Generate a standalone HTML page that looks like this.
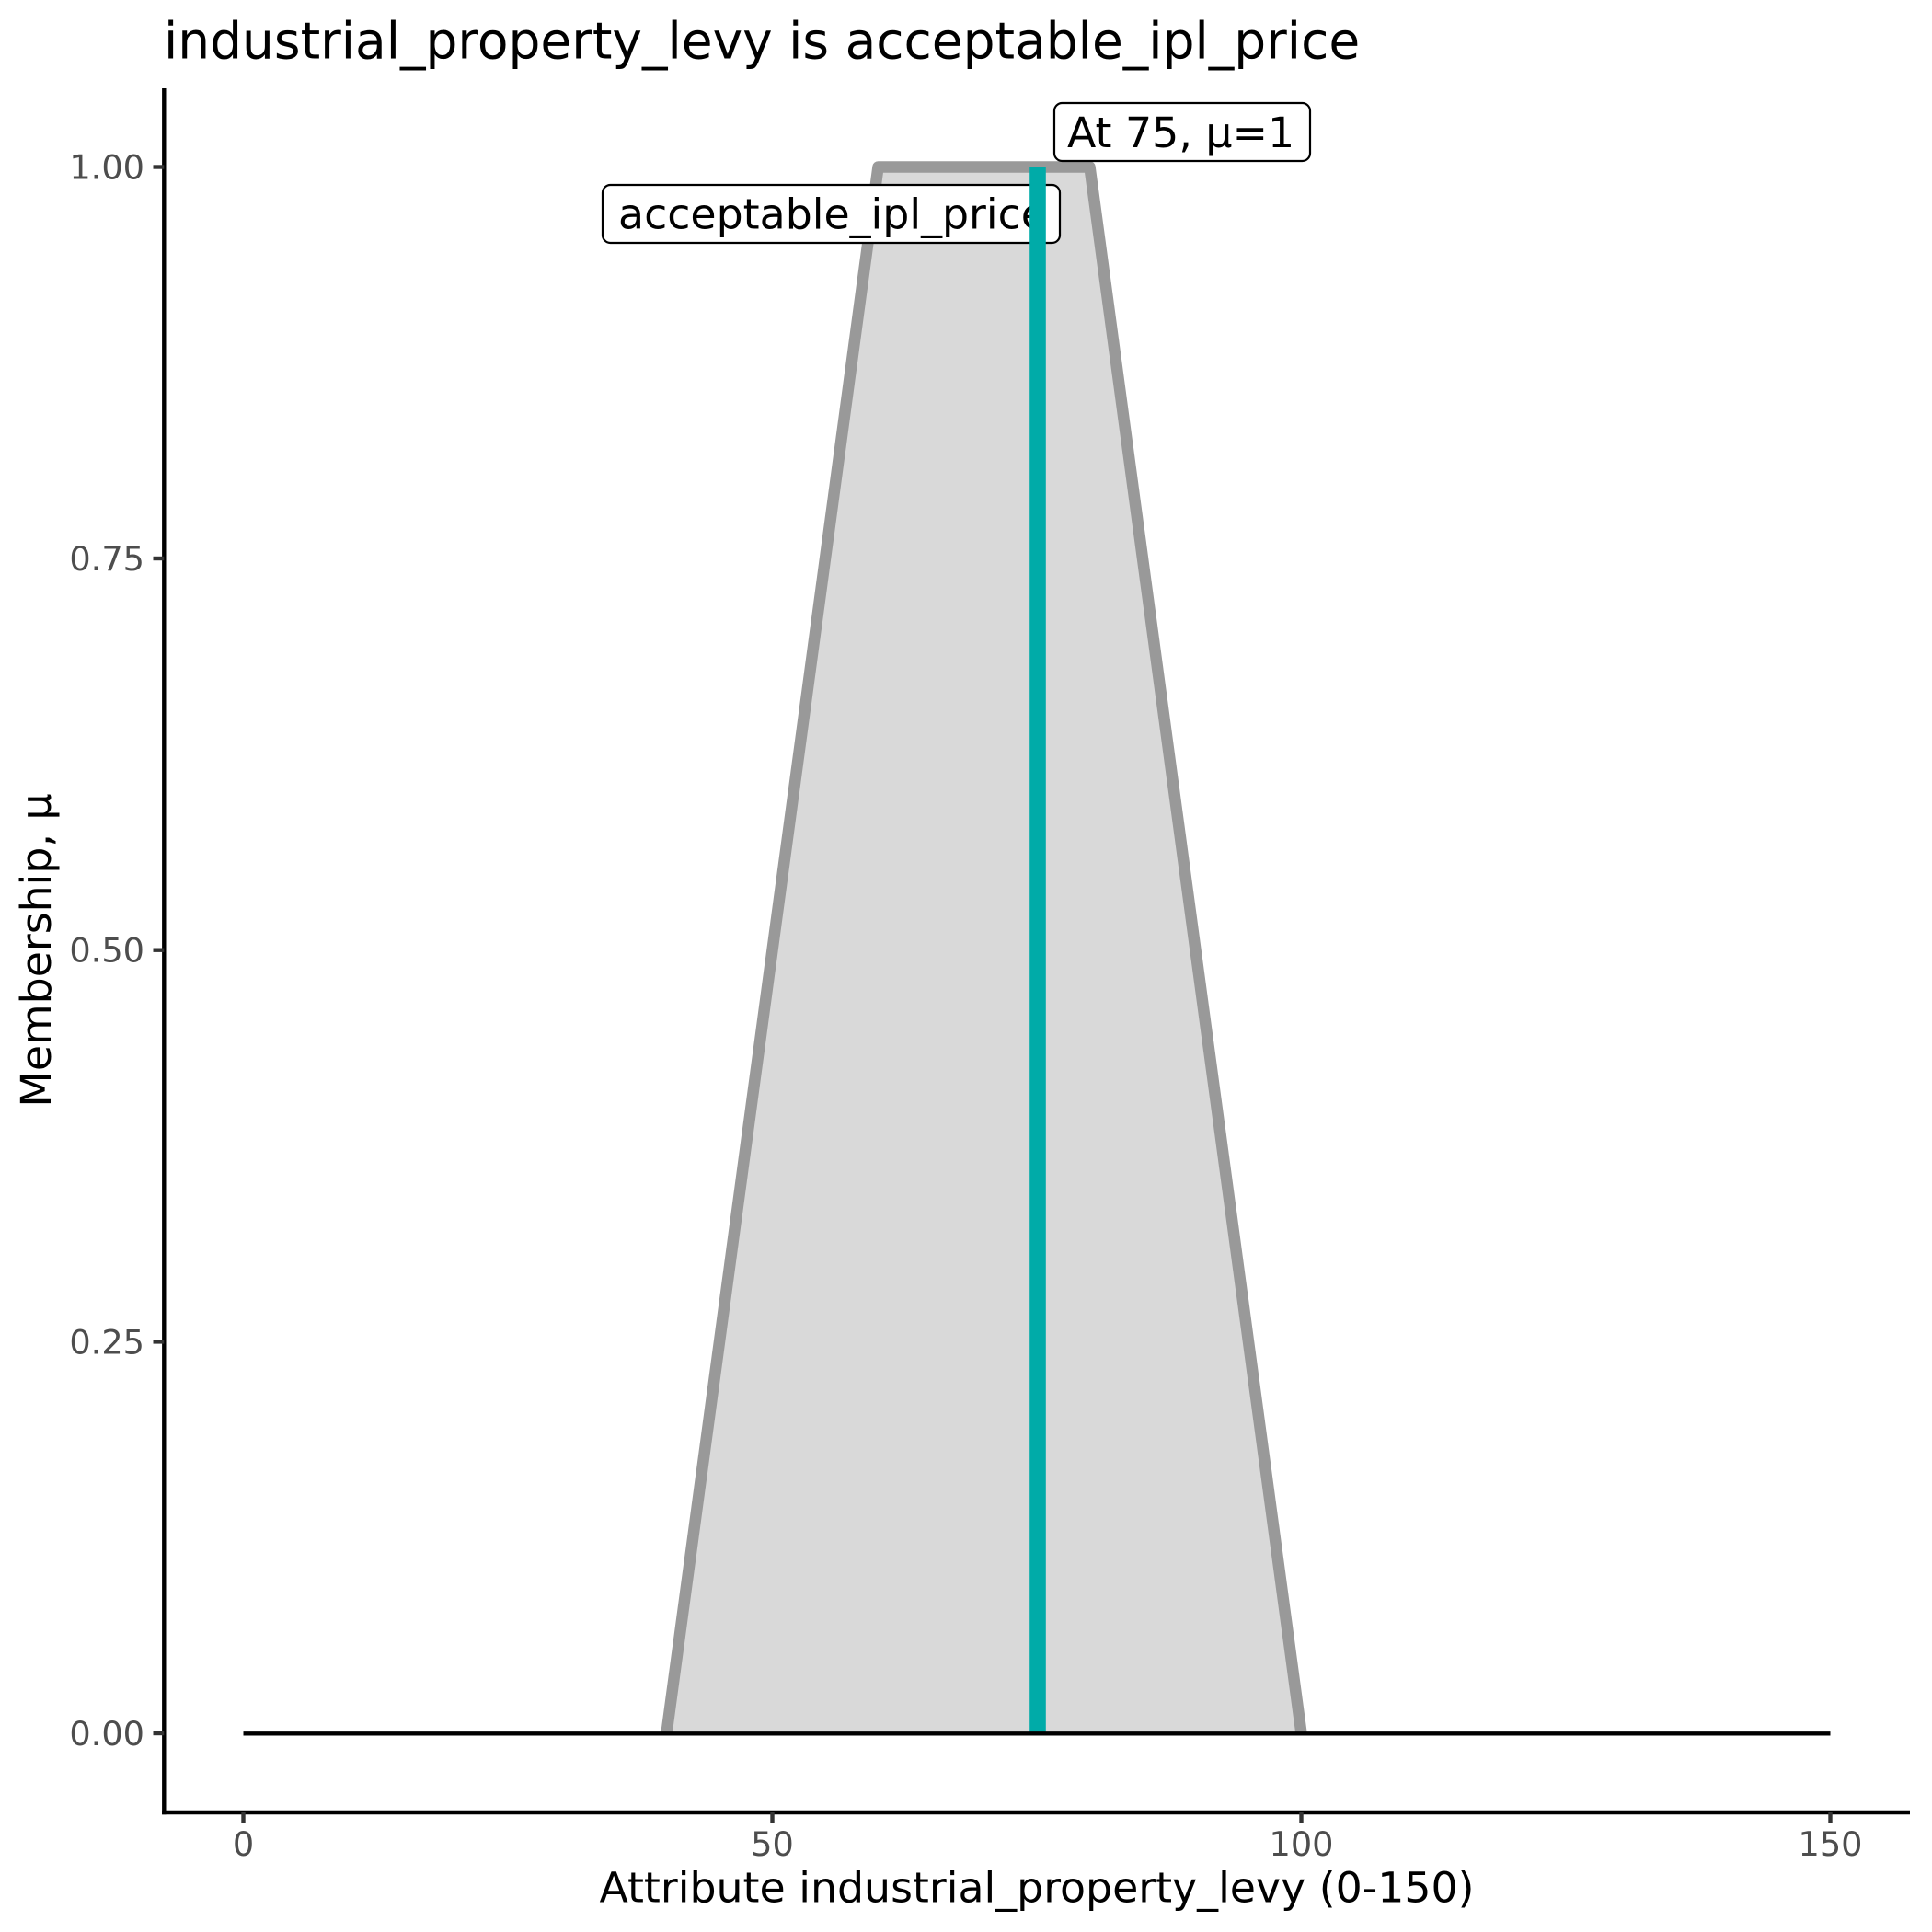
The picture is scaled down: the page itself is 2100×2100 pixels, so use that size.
<!DOCTYPE html>
<html>
<head>
<meta charset="utf-8">
<style>
html,body{margin:0;padding:0;background:#fff;}
svg{display:block;}
text{font-family:"DejaVu Sans","Liberation Sans",sans-serif;}
</style>
</head>
<body>
<svg width="2100" height="2100" viewBox="0 0 2100 2100" xmlns="http://www.w3.org/2000/svg">
<rect x="0" y="0" width="2100" height="2100" fill="#ffffff"/>

<!-- title -->
<text x="178" y="63.5" font-size="55" fill="#000">industrial_property_levy is acceptable_ipl_price</text>

<!-- fill polygon -->
<polygon points="724.5,1884 954.5,181.5 1184.5,181.5 1414.5,1884" fill="#d9d9d9" stroke="none"/>
<!-- membership line -->
<polyline points="724.5,1884 954.5,181.5 1184.5,181.5 1414.5,1884" fill="none" stroke="#999999" stroke-width="12.5" stroke-linejoin="round" stroke-linecap="butt"/>

<!-- label acceptable_ipl_price -->
<rect x="655" y="201" width="497" height="63" rx="8.5" ry="8.5" fill="#ffffff" stroke="#000" stroke-width="2.2"/>
<text x="672" y="248.5" font-size="45.8" fill="#000">acceptable_ipl_price</text>

<!-- teal line -->
<line x1="1128" y1="1884" x2="1128" y2="181.5" stroke="#00ABA8" stroke-width="17.6" stroke-linecap="butt"/>

<!-- baseline -->
<line x1="264.5" y1="1884.3" x2="1989.5" y2="1884.3" stroke="#000" stroke-width="4.4" stroke-linecap="butt"/>

<!-- label At 75 -->
<rect x="1146" y="112" width="278" height="63" rx="8.5" ry="8.5" fill="#ffffff" stroke="#000" stroke-width="2.2"/>
<text x="1160" y="160" font-size="45.8" fill="#000">At 75, μ=1</text>

<!-- axes -->
<line x1="178.3" y1="96" x2="178.3" y2="1972.2" stroke="#000" stroke-width="4.4"/>
<line x1="176.1" y1="1970" x2="2076" y2="1970" stroke="#000" stroke-width="4.4"/>

<!-- y ticks -->
<g stroke="#333333" stroke-width="4.4">
<line x1="166.5" y1="181.5" x2="178.3" y2="181.5"/>
<line x1="166.5" y1="607" x2="178.3" y2="607"/>
<line x1="166.5" y1="1032.7" x2="178.3" y2="1032.7"/>
<line x1="166.5" y1="1458.4" x2="178.3" y2="1458.4"/>
<line x1="166.5" y1="1884" x2="178.3" y2="1884"/>
</g>
<g font-size="36.7" fill="#4D4D4D" text-anchor="end">
<text x="157" y="194.5">1.00</text>
<text x="157" y="620">0.75</text>
<text x="157" y="1045.7">0.50</text>
<text x="157" y="1471.4">0.25</text>
<text x="157" y="1897">0.00</text>
</g>

<!-- x ticks -->
<g stroke="#333333" stroke-width="4.4">
<line x1="264.5" y1="1970" x2="264.5" y2="1981.5"/>
<line x1="839.5" y1="1970" x2="839.5" y2="1981.5"/>
<line x1="1414.5" y1="1970" x2="1414.5" y2="1981.5"/>
<line x1="1989.5" y1="1970" x2="1989.5" y2="1981.5"/>
</g>
<g font-size="36.7" fill="#4D4D4D" text-anchor="middle">
<text x="264.5" y="2017">0</text>
<text x="839.5" y="2017">50</text>
<text x="1414.5" y="2017">100</text>
<text x="1989.5" y="2017">150</text>
</g>

<!-- axis titles -->
<text x="1127" y="2067.5" font-size="45.8" fill="#000" text-anchor="middle">Attribute industrial_property_levy (0-150)</text>
<text transform="translate(55,1033) rotate(-90)" font-size="45.8" fill="#000" text-anchor="middle">Membership, μ</text>
</svg>
</body>
</html>
